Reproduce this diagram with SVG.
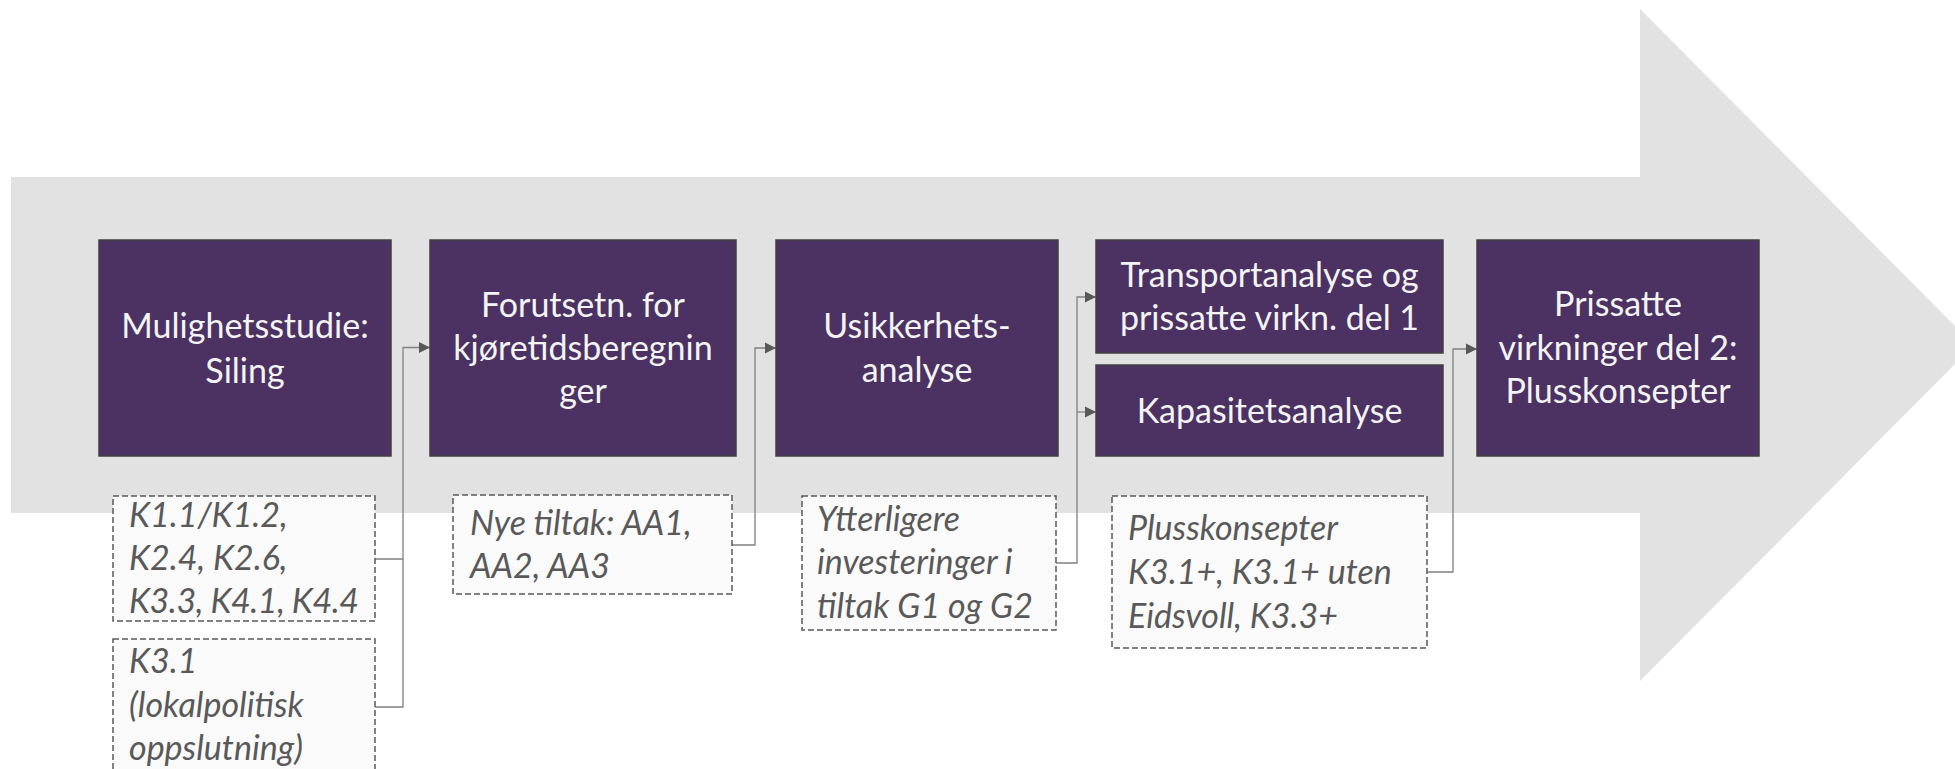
<svg xmlns="http://www.w3.org/2000/svg" width="1955" height="769" viewBox="0 0 1955 769">
  <style>
    .band { fill: #e2e2e2; }
    .step { fill: #4b3262; stroke: #404040; stroke-width: 1.5; }
    .step-text { font-family: Lato, "Liberation Sans", sans-serif; font-size: 34px; fill: #f4f4f4; text-anchor: middle; }
    .note { fill: #fafafa; stroke: #595959; stroke-width: 1.5; stroke-dasharray: 6 3; }
    .note-text { font-family: Lato, "Liberation Sans", sans-serif; font-size: 34px; font-style: italic; fill: #595959; }
    .link { fill: none; stroke: #808080; stroke-width: 1.3; }
  </style>
  <defs>
    <marker id="arrowhead" markerUnits="userSpaceOnUse" markerWidth="12" markerHeight="12" viewBox="0 0 12 12" refX="11" refY="6" orient="auto">
      <path d="M0,0.5 L11,6 L0,11.5 Z" fill="#595959"/>
    </marker>
  </defs>

  <!-- process arrow in the background -->
  <polygon class="band" points="11,177 1640,177 1640,9 1974,345 1640,681 1640,513 11,513"/>

  <!-- connectors -->
  <g id="connectors">
    <path class="link" d="M375,559 H403 V347.5 H430" marker-end="url(#arrowhead)"/>
    <path class="link" d="M375,707 H403 V559"/>
    <path class="link" d="M732,545 H755 V348 H776" marker-end="url(#arrowhead)"/>
    <path class="link" d="M1056,563 H1077 V297 H1096" marker-end="url(#arrowhead)"/>
    <path class="link" d="M1077,412 H1096" marker-end="url(#arrowhead)"/>
    <path class="link" d="M1427,572 H1453 V349 H1477" marker-end="url(#arrowhead)"/>
  </g>

  <!-- process steps -->
  <g id="step-mulighetsstudie">
    <rect class="step" x="99" y="240" width="292" height="216"/>
    <text class="step-text" x="245" y="338">Mulighetsstudie:</text>
    <text class="step-text" x="245" y="383">Siling</text>
  </g>
  <g id="step-forutsetninger">
    <rect class="step" x="430" y="240" width="306" height="216"/>
    <text class="step-text" x="583" y="317">Forutsetn. for</text>
    <text class="step-text" x="583" y="360">kjøretidsberegnin</text>
    <text class="step-text" x="583" y="403">ger</text>
  </g>
  <g id="step-usikkerhet">
    <rect class="step" x="776" y="240" width="282" height="216"/>
    <text class="step-text" x="917" y="338">Usikkerhets-</text>
    <text class="step-text" x="917" y="382">analyse</text>
  </g>
  <g id="step-transport">
    <rect class="step" x="1096" y="240" width="347" height="113"/>
    <text class="step-text" x="1269.5" y="287">Transportanalyse og</text>
    <text class="step-text" x="1269.5" y="330">prissatte virkn. del 1</text>
  </g>
  <g id="step-kapasitet">
    <rect class="step" x="1096" y="365" width="347" height="91"/>
    <text class="step-text" x="1269.5" y="423">Kapasitetsanalyse</text>
  </g>
  <g id="step-prissatte">
    <rect class="step" x="1477" y="240" width="282" height="216"/>
    <text class="step-text" x="1618" y="316">Prissatte</text>
    <text class="step-text" x="1618" y="360">virkninger del 2:</text>
    <text class="step-text" x="1618" y="403">Plusskonsepter</text>
  </g>

  <!-- input notes -->
  <g id="note-k1">
    <rect class="note" x="113" y="496" width="262" height="125"/>
    <text class="note-text" x="129" y="527">K1.1/K1.2,</text>
    <text class="note-text" x="129" y="570">K2.4, K2.6,</text>
    <text class="note-text" x="129" y="613" textLength="230" lengthAdjust="spacing">K3.3, K4.1, K4.4</text>
  </g>
  <g id="note-k31">
    <rect class="note" x="113" y="639" width="262" height="145"/>
    <text class="note-text" x="129" y="673">K3.1</text>
    <text class="note-text" x="129" y="717">(lokalpolitisk</text>
    <text class="note-text" x="129" y="760">oppslutning)</text>
  </g>
  <g id="note-nye-tiltak">
    <rect class="note" x="453" y="495" width="279" height="99"/>
    <text class="note-text" x="470" y="535">Nye tiltak: AA1,</text>
    <text class="note-text" x="470" y="578">AA2, AA3</text>
  </g>
  <g id="note-ytterligere">
    <rect class="note" x="802" y="496" width="254" height="134"/>
    <text class="note-text" x="817" y="531">Ytterligere</text>
    <text class="note-text" x="817" y="574">investeringer i</text>
    <text class="note-text" x="817" y="618">tiltak G1 og G2</text>
  </g>
  <g id="note-plusskonsepter">
    <rect class="note" x="1112" y="496" width="315" height="152"/>
    <text class="note-text" x="1128" y="540">Plusskonsepter</text>
    <text class="note-text" x="1128" y="584">K3.1+, K3.1+ uten</text>
    <text class="note-text" x="1128" y="628">Eidsvoll, K3.3+</text>
  </g>
</svg>
